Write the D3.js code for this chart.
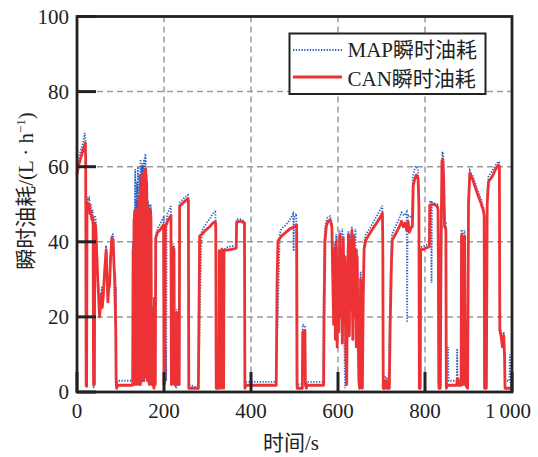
<!DOCTYPE html>
<html>

<head>
    <meta charset="utf-8">
    <style>
    body {
        margin: 0px;
        padding: 0px;
        background-color: white;
        overflow: hidden;
    }

    text {
        font-family: "Liberation Serif", "Times New Roman", "Noto Sans CJK SC", serif;
        fill: #222;
    }

    .grid line {
        stroke: #9a9a9a;
        stroke-width: 1.5px;
        stroke-dasharray: 6, 4;
    }

    .tick-mark {
        stroke: #222;
        stroke-width: 3px;
    }
    </style>
</head>

<body>
</body>
<script src="https://cdn.jsdelivr.net/npm/d3@7"></script>
<script>
// 时间 (s), 瞬时油耗 (L/h)
var mapData = [
    [0, 60], [4, 62.5], [9, 64.5], [14, 66.5], [18, 69], [20, 66], [21, 2], [22, 3], [23, 50], [24, 52], [26, 51], [28, 51.5],
    [30, 49.5], [32, 50], [34, 48], [36, 48.5], [37, 46], [38, 1], [40, 3], [41, 47], [43, 46], [45, 40], [47, 33], [49, 28],
    [51, 24], [53, 22], [55, 25.5], [57, 28], [59, 24], [61, 27], [63, 31], [65, 35], [67, 39], [69, 33], [71, 26], [73, 28],
    [75, 30], [77, 36], [80, 42], [83, 42], [85, 36], [86, 26], [87, 21], [88, 18], [89, 28], [90, 4], [91, 1.5], [93, 3], [127, 3],
    [128, 4], [129, 40], [130, 5], [131, 48], [132, 3], [133, 50], [134, 59.4], [135, 6], [136, 51], [137, 3], [138, 56], [139, 5],
    [140, 60], [141, 4], [142, 50], [143, 2], [144, 58], [145, 6], [146, 62], [147, 5], [148, 60], [149, 3], [150, 61], [151, 8],
    [152, 60], [153, 4], [154, 62], [155, 5], [156, 61], [157, 63.4], [158, 62], [159, 5], [160, 58], [161, 51.5], [162, 4], [163, 51],
    [164, 3], [165, 50], [166, 5], [167, 49], [168, 25], [169, 50], [170, 48], [171, 20], [172, 4], [174, 23], [175, 3], [177, 1], [180, 3],
    [181, 41.5], [185, 43.5], [190, 44.5], [196, 46], [199, 46.5], [200, 14], [202, 2], [204, 12], [205, 3], [206, 46], [208, 47.5],
    [213, 48.8], [216, 49.5], [217, 3], [220, 2], [221, 39.5], [223, 39], [224, 3], [228, 1], [229, 22], [231, 21.5], [232, 3], [235, 2],
    [236, 50.5], [245, 51.5], [255, 52.5], [256, 52], [257, 2], [278, 1],
    [279, 2], [281, 12], [283, 25], [285, 36], [287, 43], [295, 44.5], [300, 45.5], [305, 46], [312, 47.5], [318, 48], [319, 45], [320, 2],
    [326, 2], [327, 38], [329, 2], [331, 2], [333, 38.5], [335, 3], [337, 2], [338, 38], [345, 38.5], [355, 38.8], [366, 39], [367, 46],
    [376, 46], [385, 45.5], [386, 2], [389, 2.7], [457, 2.7],
    [458, 6], [460, 14], [462, 22], [464, 32], [466, 42], [470, 43.5], [480, 44.5], [490, 46], [497, 47.5], [498, 37.5], [499, 46.5],
    [504, 47.5], [505, 2], [518, 2], [519, 18], [524, 17.5], [525, 3], [527, 2], [529, 2.7], [566, 2.7],
    [567, 25], [569, 42], [572, 45], [576, 46.5], [582, 46.8], [586, 45], [588, 32],
    [590, 20], [592, 40], [594, 15], [596, 42], [598, 13], [600, 37], [602, 18], [604, 43], [606, 22], [608, 40], [610, 43.5], [611, 14],
    [613, 42], [614, 20], [616, 1], [618, 12], [620, 3], [622, 32], [624, 43], [626, 17], [628, 42], [630, 24], [632, 44], [634, 16],
    [636, 42], [638, 22], [640, 43.5], [642, 14], [644, 38], [646, 20], [648, 8], [650, 2], [652, 32], [654, 4], [656, 2], [658, 27],
    [660, 40], [664, 42],
    [673, 43.5], [680, 45], [690, 47], [697, 48.5], [702, 49.6], [703, 42], [704, 2], [708, 2], [709, 4], [712, 4], [713, 2], [716, 2],
    [719, 20], [722, 37], [724, 42], [732, 44], [740, 46], [746, 47.8], [752, 47], [758, 48], [759, 18.5], [760, 47], [766, 47], [770, 46],
    [772, 57], [775, 59], [779, 60.2], [784, 59], [786, 52], [787, 2], [789, 38.5], [800, 39], [810, 39.5], [811, 50.5], [814, 51],
    [815, 29], [816, 50.5], [828, 50], [830, 49.5], [831, 2], [836, 2], [838, 45], [840, 64], [842, 63], [844, 50], [846, 45.5], [848, 45],
    [849, 2], [852, 3], [853, 12], [854, 3], [873, 3], [874, 11.6], [875, 3], [883, 3], [884, 43.3], [886, 41], [887, 3], [889, 42],
    [891, 43], [893, 3], [898, 2], [900, 52], [903, 59], [910, 57.5], [920, 54], [928, 51.5], [934, 49.3], [936, 48], [937, 3.5],
    [941, 3], [943, 52], [946, 57.5], [955, 59], [963, 60.5], [969, 61.4], [971, 61], [972, 17.5], [975, 16], [978, 13], [981, 16],
    [983, 10], [984, 3], [994, 3], [995, 10], [997, 2], [999, 1]
];

var canData = [
    [0, 58], [4, 60.5], [9, 62.5], [14, 64.5], [19, 66.3], [20, 62], [21, 2], [22, 1.5], [23, 48], [24, 50.5], [26, 49], [28, 50],
    [30, 47.5], [32, 48], [34, 46], [36, 46.5], [37, 44], [38, 2], [40, 2], [41, 45], [43, 44], [45, 38], [47, 32], [49, 27], [51, 22],
    [52, 20], [54, 23], [56, 26], [58, 22.5], [60, 25], [62, 29], [64, 33], [67, 37.8], [69, 31], [71, 24], [73, 27.5], [75, 28.5],
    [77, 35], [80, 41], [83, 40.5], [85, 34], [87, 30], [88, 24], [89, 17.5], [90, 3], [91, 1], [93, 1.8], [127, 1.8],
    [128, 2], [129, 38], [130, 3], [131, 46], [132, 2], [133, 48.4], [134, 5], [135, 47], [136, 2], [137, 48.5], [138, 8], [139, 47],
    [140, 3], [141, 46], [142, 2], [143, 52], [144, 6], [145, 50], [146, 2], [147, 55], [148, 4], [149, 57.8], [150, 3], [151, 58],
    [152, 10], [153, 57], [154, 3], [155, 59], [156, 6], [157, 58.5], [158, 59.4], [159, 4], [160, 56], [161, 48], [162, 3], [163, 49],
    [164, 20], [165, 48.4], [166, 2], [167, 47.5], [168, 22], [169, 48.4], [170, 46], [171, 18], [172, 2], [174, 21.8], [175, 2],
    [177, 1], [178, 25], [179, 2], [180, 2],
    [181, 41], [185, 42.5], [190, 43], [196, 44], [199, 44.5], [200, 2], [202, 3], [203, 44], [208, 45.5], [213, 46.5], [216, 47],
    [217, 2], [220, 3], [221, 38.5], [223, 38], [224, 2], [228, 2], [229, 21], [231, 20], [232, 2], [235, 2], [236, 49.5], [245, 50.5],
    [255, 51.5], [256, 51], [257, 1], [278, 1],
    [279, 1], [280, 15], [282, 41.5], [287, 42], [295, 43], [300, 43.5], [305, 44], [312, 45], [318, 45.3], [319, 44], [320, 1],
    [326, 1], [327, 37.5], [329, 2], [331, 1], [333, 38], [335, 2], [337, 1], [338, 37.8], [345, 37.8], [355, 38], [366, 38.3],
    [367, 45.2], [376, 45.5], [385, 45], [386, 1], [389, 1.8], [458, 1.8],
    [459, 16], [460, 30], [462, 40.2], [470, 41.5], [480, 42.5], [490, 43.5], [500, 44], [505, 44.5], [506, 1], [518, 1], [519, 16],
    [524, 16.4], [525, 2], [527, 1], [529, 1.8], [567, 1.8],
    [568, 20], [570, 40], [573, 44], [577, 45.5], [582, 45.8], [586, 44], [588, 30],
    [590, 18], [592, 38], [594, 14], [596, 40], [598, 12], [600, 35], [602, 16], [604, 42], [606, 20], [608, 38], [610, 13], [612, 41],
    [614, 18], [616, 36], [618, 10], [620, 2], [622, 30], [624, 42], [626, 15], [628, 40], [630, 22], [632, 43], [634, 14], [636, 41],
    [638, 20], [640, 38], [642, 12], [644, 36], [646, 18], [648, 3], [650, 1], [652, 30], [654, 2], [656, 1], [658, 25], [660, 38],
    [664, 40.5],
    [673, 42.2], [680, 43.5], [690, 45.2], [697, 46.5], [702, 47.6], [703, 40], [704, 1], [708, 1], [709, 3], [712, 3], [713, 1],
    [718, 1], [720, 18], [723, 35], [725, 40.5], [732, 42], [738, 43.3], [743, 44.5], [746, 45.5], [750, 44], [754, 45], [758, 43],
    [761, 45.5], [764, 42.5], [769, 44], [771, 44], [773, 55], [776, 56.5], [780, 57.8], [784, 57], [786, 50], [787, 1], [789, 1],
    [790, 37.8], [800, 38.2], [810, 38.7], [811, 49.8], [820, 50], [828, 49.5], [830, 48.5], [832, 1], [835, 1], [837, 40], [839, 61.5],
    [841, 62], [843, 56.5], [845, 44], [848, 43.5], [849, 1], [852, 1.8], [873, 1.8], [874, 3.4], [876, 3.4], [877, 1.8], [883, 1.8],
    [884, 41.8], [886, 40], [887, 2], [889, 40.5], [891, 41.5], [893, 2], [898, 1], [900, 50], [903, 58.2], [910, 56.5], [920, 53],
    [928, 50.5], [934, 48.4], [936, 47], [937, 1], [941, 1], [943, 50], [946, 56], [955, 57.5], [963, 59.5], [969, 60.4], [971, 60],
    [972, 16.4], [975, 14.8], [978, 12], [981, 15], [983, 9], [984, 1], [999, 1]
];

var xTicks = [0, 200, 400, 600, 800, 1000];
var xTickLabels = ["0", "200", "400", "600", "800", "1\u2009000"];
var yTicks = [0, 20, 40, 60, 80, 100];
var seriesNames = ["MAP瞬时油耗", "CAN瞬时油耗"];

var W = 538,
    H = 457;
var plot = { left: 77, right: 512, top: 16.5, bottom: 392 };

var x = d3.scaleLinear().domain([0, 1000]).range([plot.left, plot.right]);
var y = d3.scaleLinear().domain([0, 100]).range([plot.bottom, plot.top]);

var svg = d3.select("body").append("svg")
    .attr("width", W)
    .attr("height", H);

// dashed grid
var grid = svg.append("g").attr("class", "grid");
grid.selectAll(".gx")
    .data(xTicks.slice(1, -1))
    .enter().append("line")
    .attr("x1", d => x(d)).attr("x2", d => x(d))
    .attr("y1", plot.top).attr("y2", plot.bottom);
grid.selectAll(".gy")
    .data(yTicks.slice(1, -1))
    .enter().append("line")
    .attr("y1", d => y(d)).attr("y2", d => y(d))
    .attr("x1", plot.left).attr("x2", plot.right);

var line = d3.line()
    .x(d => x(d[0]))
    .y(d => y(d[1]));

svg.append("path")
    .datum(mapData)
    .attr("d", line)
    .attr("fill", "none")
    .attr("stroke", "#2f5fc4")
    .attr("stroke-width", 1.8)
    .attr("stroke-dasharray", "1.3,1.5");

svg.append("path")
    .datum(canData)
    .attr("d", line)
    .attr("fill", "none")
    .attr("stroke", "#ec3234")
    .attr("stroke-width", 2.8)
    .attr("stroke-linejoin", "round");

// inward ticks
svg.selectAll(".xt")
    .data(xTicks)
    .enter().append("line")
    .attr("class", "tick-mark")
    .attr("x1", d => x(d)).attr("x2", d => x(d))
    .attr("y1", plot.bottom).attr("y2", plot.bottom - 20);
svg.selectAll(".yt")
    .data(yTicks)
    .enter().append("line")
    .attr("class", "tick-mark")
    .attr("y1", d => y(d)).attr("y2", d => y(d))
    .attr("x1", plot.left).attr("x2", plot.left + 19);

// frame
svg.append("rect")
    .attr("x", plot.left)
    .attr("y", plot.top)
    .attr("width", plot.right - plot.left)
    .attr("height", plot.bottom - plot.top)
    .attr("fill", "none")
    .attr("stroke", "#222")
    .attr("stroke-width", 2.8);

svg.selectAll(".xl")
    .data(xTicks)
    .enter().append("text")
    .attr("x", (d, i) => x(d) - (i == xTicks.length - 1 ? 4 : 0))
    .attr("y", 418)
    .attr("text-anchor", "middle")
    .style("font-size", "21px")
    .text((d, i) => xTickLabels[i]);

svg.selectAll(".yl")
    .data(yTicks)
    .enter().append("text")
    .attr("x", 69)
    .attr("y", d => y(d))
    .attr("dy", "0.34em")
    .attr("text-anchor", "end")
    .style("font-size", "21px")
    .text(d => d);

svg.append("text")
    .attr("x", 291)
    .attr("y", 450)
    .attr("text-anchor", "middle")
    .style("font-size", "21px")
    .text("时间/s");

var ylab = svg.append("text")
    .attr("transform", "translate(33,191) rotate(-90)")
    .attr("text-anchor", "middle")
    .style("font-size", "21px");
ylab.append("tspan").text("瞬时油耗/(L · h");
ylab.append("tspan").attr("dy", -8).style("font-size", "13px").text("−1");
ylab.append("tspan").attr("dy", 8).text(")");

// legend
var legend = svg.append("g");
legend.append("rect")
    .attr("x", 289.5)
    .attr("y", 33.5)
    .attr("width", 196)
    .attr("height", 60.5)
    .attr("fill", "white")
    .attr("stroke", "#222")
    .attr("stroke-width", 2);
legend.append("line")
    .attr("x1", 293).attr("x2", 342)
    .attr("y1", 50).attr("y2", 50)
    .attr("stroke", "#2f5fc4")
    .attr("stroke-width", 1.8)
    .attr("stroke-dasharray", "1.3,1.5");
legend.append("line")
    .attr("x1", 293).attr("x2", 342)
    .attr("y1", 77).attr("y2", 77)
    .attr("stroke", "#ec3234")
    .attr("stroke-width", 2.8);
legend.selectAll(".lt")
    .data(seriesNames)
    .enter().append("text")
    .attr("x", 347.5)
    .attr("y", (d, i) => 57 + i * 29)
    .style("font-size", "21px")
    .text(d => d);
</script>

</html>
